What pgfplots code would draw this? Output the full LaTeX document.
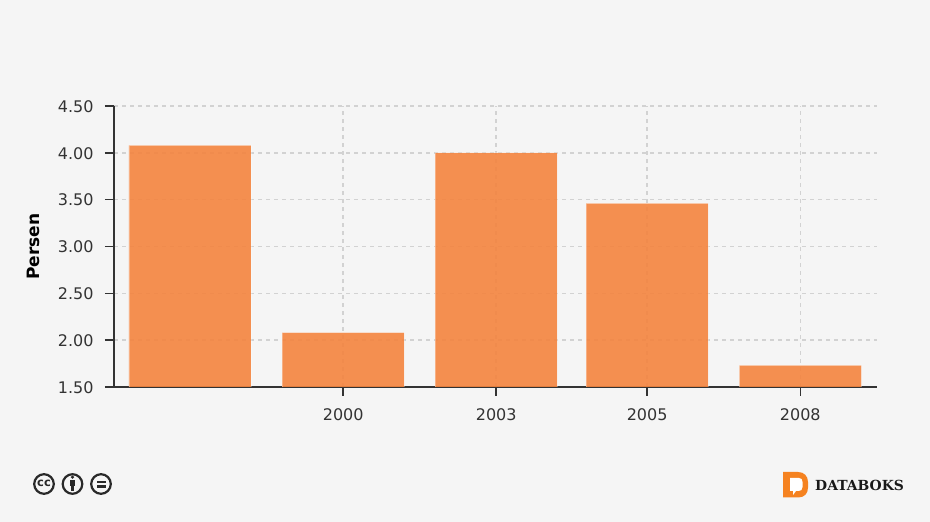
\documentclass[border=0pt]{standalone}
\usepackage{pgfplots}
\usepackage{fontspec}
\setmainfont{DejaVu Sans}
\newfontfamily\logofont{DejaVu Serif}
\pgfplotsset{compat=1.18}
\definecolor{pagebg}{HTML}{F5F5F5}
\definecolor{barcol}{HTML}{F4843F}
\definecolor{logocol}{HTML}{F58220}
\definecolor{axiscol}{HTML}{333333}
\definecolor{gridcol}{HTML}{D2D2D2}
\begin{document}
\begin{tikzpicture}
\useasboundingbox (0,0) rectangle (930pt,522pt);
\fill[pagebg] (0,0) rectangle (930pt,522pt);
\begin{axis}[
  at={(114pt,135pt)}, anchor=south west,
  scale only axis, width=763pt, height=281pt,
  ybar, bar width=122pt, bar shift=0pt,
  xmin=-0.498, xmax=4.505, ymin=1.5, ymax=4.5,
  axis lines=left, axis line style={-, axiscol, line width=1.5pt},
  xtick={1.005,2.008,2.998,4.002}, xticklabels={2000,2003,2005,2008},
  ytick={1.5,2,2.5,3,3.5,4,4.5},
  yticklabel style={xshift=-8pt, yshift=-0.5pt, /pgf/number format/fixed, /pgf/number format/fixed zerofill, /pgf/number format/precision=2, /pgf/number format/assume math mode=true},
  tick style={axiscol, line width=1.5pt},
  tick align=outside, major tick length=9pt,
  ticklabel style={font=\fontsize{16}{18}\selectfont, text=axiscol},
  xticklabel style={yshift=-9pt},
  grid=major,
  major grid style={gridcol, line width=1.5pt, dash pattern=on 4pt off 4pt},
  ylabel={Persen},
  ylabel style={font=\fontsize{17}{18}\selectfont\bfseries, text=black, at={(axis description cs:0,0.5)}, anchor=south, yshift=71pt},
]
\addplot[fill=barcol, fill opacity=0.9, draw=white, draw opacity=0.3, line width=0.8pt]
  coordinates {(0,4.08) (1.005,2.08) (2.008,4.00) (2.998,3.46) (4.002,1.73)};
\end{axis}
% licence icons and logo, in pixel coordinates from the top left
\begin{scope}[x=1pt,y=-1pt,shift={(0,-522)}]
  \foreach \cx in {44,72.5,101} {\draw[axiscol!80!black, line width=2.2pt] (\cx,484) circle (9.8);}
  \node[font=\fontsize{11.5}{11}\bfseries, text=axiscol!80!black, inner sep=0pt] at (44,483.2) {cc};
  \fill[axiscol!80!black] (72.5,477.2) circle (1.8);
  \fill[axiscol!80!black] (70,480) rectangle (75,486);
  \fill[axiscol!80!black] (71,486) rectangle (74,491);
  \fill[axiscol!80!black] (96.5,480.6) rectangle (105.5,483.2);
  \fill[axiscol!80!black] (96.5,485.4) rectangle (105.5,488);
  \fill[logocol] (783,472) -- (798,472) .. controls (804,472) and (808,476) .. (808,482)
    -- (808,487.5) .. controls (808,494) and (804,497.5) .. (798,497.5) -- (783,497.5) -- cycle;
  \fill[white] (790,478) -- (799,478) .. controls (801.5,478) and (802.5,479.5) .. (802.5,482)
    -- (802.5,487) .. controls (802.5,490) and (801,491) .. (798.5,491) -- (796,491) -- (793,495) -- (793,491) -- (790,491) -- cycle;
  \node[font=\fontsize{13.9}{15}\logofont\bfseries, text=black!90, anchor=west, inner sep=0pt] at (815,485.5) {DATABOKS};
\end{scope}
\end{tikzpicture}
\end{document}
